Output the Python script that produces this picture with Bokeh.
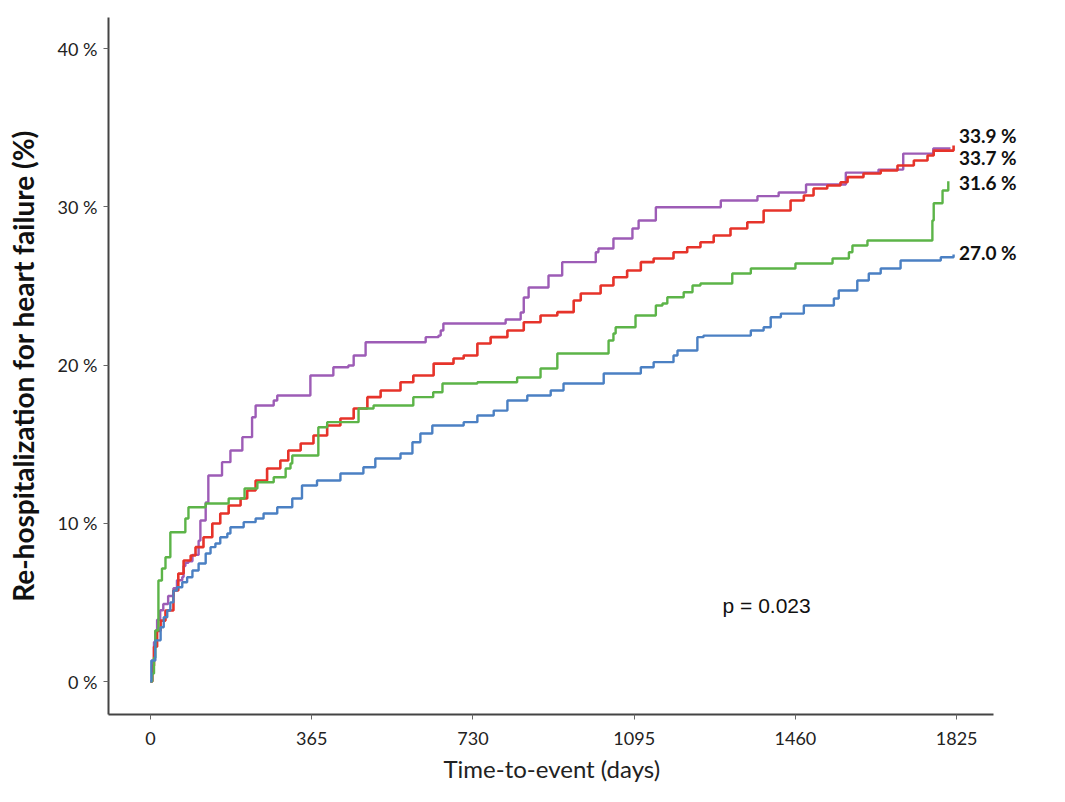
from bokeh.plotting import figure
from bokeh.models import Range1d, FixedTicker, Label, Title
from bokeh.embed import file_html
from bokeh.resources import INLINE

# ---------------- data (days, cumulative incidence %) ----------------
purple_t = [0, 4, 8, 11, 15, 22, 29, 40, 52, 60, 72, 75, 79, 86, 95, 109, 113, 125, 131,
            162, 181, 208, 230, 238, 279, 287, 362, 414, 448, 460, 487, 623, 652, 657, 663,
            804, 838, 845, 856, 901, 932, 1008, 1014, 1048, 1091, 1105, 1144, 1291, 1374,
            1422, 1484, 1574, 1648, 1704, 1772, 1811]
purple_y = [0, 1.3, 2.5, 3.2, 3.9, 4.5, 4.9, 5.4, 5.9, 6.4, 6.6, 7.3, 7.5, 7.6, 8.0, 8.9, 10.17, 11.31, 13.02,
            13.86, 14.60, 15.44, 16.70, 17.44, 17.76, 18.07, 19.34, 19.86, 19.97, 20.60, 21.44, 21.76, 21.86, 22.18, 22.62,
            22.88, 23.32, 24.27, 24.90, 25.66, 26.50, 27.13, 27.36, 27.99, 28.63, 29.13, 29.97, 30.40, 30.67,
            30.90, 31.41, 32.16, 32.35, 33.36, 33.68, 33.68]

red_t = [0, 4, 8, 15, 23, 34, 52, 63, 75, 91, 102, 120, 140, 158, 177, 204, 219, 238, 264, 294,
         312, 340, 369, 400, 430, 460, 491, 521, 566, 595, 641, 686, 709, 740, 770, 808, 845, 883,
         921, 958, 974, 1019, 1048, 1079, 1110, 1139, 1184, 1215, 1245, 1275, 1313, 1351, 1388,
         1449, 1479, 1501, 1532, 1562, 1578, 1614, 1653, 1691, 1728, 1759, 1773, 1818]
red_y = [0, 1.0, 2.2, 3.2, 3.85, 4.49, 5.75, 6.82, 7.65, 7.96, 8.49, 9.12, 9.98, 10.62, 11.12, 11.56, 12.07, 12.70, 13.46, 13.97,
         14.60, 15.04, 15.55, 16.18, 16.62, 17.25, 17.97, 18.39, 18.91, 19.34, 20.09, 20.41, 20.60, 21.36, 21.76, 22.18, 22.70, 23.13,
         23.34, 24.08, 24.52, 25.02, 25.55, 25.97, 26.50, 26.73, 27.13, 27.44, 27.76, 28.18, 28.63, 29.02, 29.76,
         30.40, 30.71, 31.15, 31.34, 31.55, 31.87, 32.10, 32.29, 32.61, 32.92, 33.24, 33.55, 33.87]

green_t = [0, 4, 8, 11, 18, 26, 34, 45, 79, 86, 125, 177, 213, 242, 279, 306, 317, 321, 380, 400,
           471, 505, 595, 640, 661, 740, 830, 883, 921, 1037, 1048, 1053, 1098, 1144, 1159, 1170,
           1207, 1227, 1245, 1317, 1359, 1460, 1544, 1581, 1589, 1623, 1770, 1773, 1793, 1806]
green_y = [0, 0.5, 1.5, 3.22, 6.38, 7.14, 7.85, 9.43, 10.30, 11.01, 11.25, 11.56, 12.20, 12.59, 12.91, 13.46, 13.78, 14.28, 16.07, 16.39,
           17.25, 17.44, 17.97, 18.28, 18.83, 18.91, 19.21, 19.78, 20.73, 21.55, 21.99, 22.39, 23.13, 23.76, 23.89, 24.28,
           24.60, 25.02, 25.15, 25.78, 26.10, 26.41, 26.73, 27.13, 27.55, 27.87, 29.13, 30.22, 31.03, 31.61]

blue_t = [0, 2, 11, 23, 30, 38, 45, 52, 60, 72, 83, 95, 109, 125, 136, 147, 158, 174, 181, 211,
          238, 256, 287, 321, 343, 377, 430, 482, 509, 566, 593, 611, 638, 709, 740, 777, 808, 853,
          906, 935, 1026, 1110, 1139, 1184, 1193, 1238, 1252, 1359, 1388, 1404, 1427, 1479, 1547,
          1558, 1600, 1626, 1653, 1698, 1789, 1818]
blue_y = [0, 1.33, 2.6, 3.43, 4.06, 4.49, 5.0, 5.75, 5.96, 6.27, 6.59, 7.01, 7.46, 8.09, 8.49, 8.72, 9.12, 9.35, 9.75, 10.07,
          10.30, 10.62, 11.01, 11.56, 12.39, 12.70, 13.14, 13.54, 14.09, 14.41, 15.12, 15.67, 16.18, 16.39, 16.81, 17.12, 17.76, 18.07,
          18.39, 18.83, 19.46, 19.86, 20.18, 20.60, 20.92, 21.76, 21.86, 22.18, 22.39, 23.02, 23.25, 23.76, 24.20,
          24.71, 25.34, 25.78, 26.10, 26.60, 26.81, 26.98]

end_labels = ["33.9 %", "33.7 %", "31.6 %", "27.0 %"]
x_ticks = [0, 365, 730, 1095, 1460, 1825]
y_ticks = [0, 10, 20, 30, 40]
y_tick_labels = ["0 %", "10 %", "20 %", "30 %", "40 %"]
x_title = "Time-to-event (days)"
y_title = "Re-hospitalization for heart failure (%)"
p_value_text = "p = 0.023"

# ---------------- figure ----------------
# frame extends to the right edge so the end labels are not clipped;
# the x axis line is limited with bounds
p = figure(width=1060, height=795, output_backend="svg", toolbar_location=None,
           x_range=Range1d(-95, 2060), y_range=Range1d(-2.085, 41.96),
           min_border_left=108, min_border_right=0, min_border_top=17, min_border_bottom=81)
p.outline_line_color = None
p.xgrid.visible = False
p.ygrid.visible = False
p.background_fill_color = "white"
p.border_fill_color = "white"

colors = {"purple": "#9D5CB6", "red": "#E6332A", "green": "#5CB448", "blue": "#4B80C3"}
p.step(purple_t, purple_y, mode="after", line_color=colors["purple"], line_width=2.4)
p.step(red_t, red_y, mode="after", line_color=colors["red"], line_width=2.6)
p.step(green_t, green_y, mode="after", line_color=colors["green"], line_width=2.4)
p.step(blue_t, blue_y, mode="after", line_color=colors["blue"], line_width=2.4)

# end labels
label_x = 1830
label_y = [34.5, 33.1, 31.55, 27.1]
p.text(x=[label_x] * len(end_labels), y=label_y, text=end_labels,
       text_font={"value": "Lato"}, text_font_style="bold",
       text_font_size="19px", text_color="#111111", text_baseline="middle", text_align="left")

p.add_layout(Label(x=1295, y=4.8, text=p_value_text, text_font="Liberation Sans",
                   text_font_size="21px", text_color="#111111", text_baseline="middle",
                   text_align="left"))

# axes
for ax in (p.xaxis[0], p.yaxis[0]):
    ax.axis_line_color = "#444444"
    ax.axis_line_width = 2
    ax.major_tick_line_color = "#666666"
    ax.major_tick_in = 0
    ax.major_tick_out = 5
    ax.minor_tick_line_color = None
    ax.major_label_text_font = "Lato"
    ax.major_label_text_font_size = "18px"
    ax.major_label_text_color = "#222222"

p.xaxis.bounds = (-95, 1909)
p.xaxis.ticker = FixedTicker(ticks=x_ticks)
p.xaxis.major_label_standoff = 12

# x axis title placed as a below-title so it can be centred on the axis line, not the frame
p.add_layout(Title(text=x_title, align="left", offset=335, text_font="Lato",
                   text_font_style="normal", text_font_size="24px", text_color="#222222",
                   standoff=9), "below")

p.yaxis.ticker = FixedTicker(ticks=y_ticks)
p.yaxis.major_label_overrides = {t: lab for t, lab in zip(y_ticks, y_tick_labels)}
p.yaxis.major_label_standoff = 6
p.yaxis.axis_label = y_title
p.yaxis.axis_label_text_font = "Lato"
p.yaxis.axis_label_text_font_style = "bold"
p.yaxis.axis_label_text_font_size = "28px"
p.yaxis.axis_label_text_color = "#111111"
p.yaxis.axis_label_standoff = 15

open("out.html", "w").write(file_html(p, INLINE))
